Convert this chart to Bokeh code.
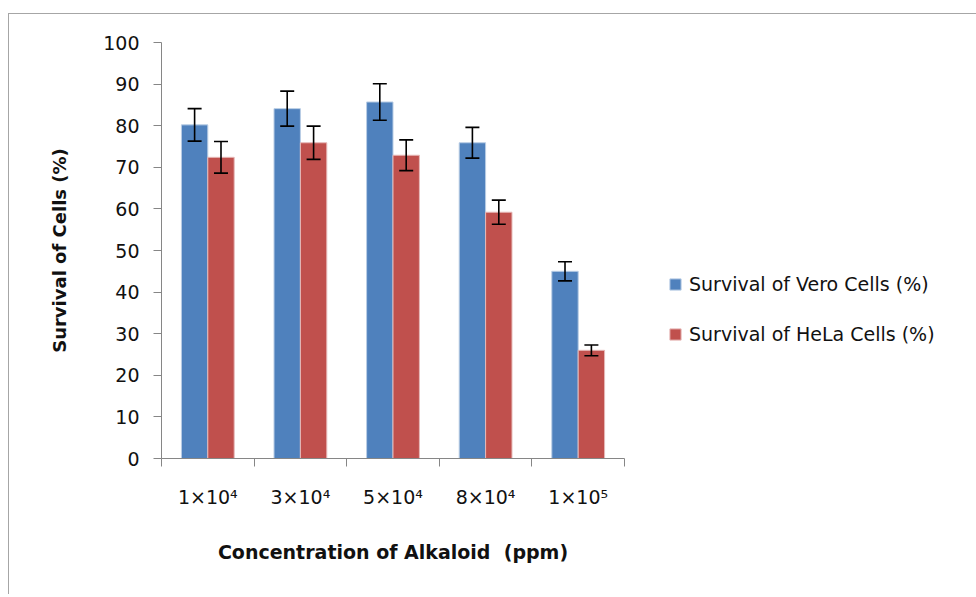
from bokeh.plotting import figure
from bokeh.models import Range1d, FixedTicker, ColumnDataSource, Whisker, TeeHead, Legend, LegendItem
from bokeh.embed import file_html
from bokeh.resources import INLINE

categories = ["1×10⁴", "3×10⁴", "5×10⁴", "8×10⁴", "1×10⁵"]
vero = [80.2, 84.1, 85.7, 75.9, 45.0]
vero_err = [3.9, 4.2, 4.4, 3.7, 2.3]
hela = [72.4, 75.9, 72.9, 59.2, 26.0]
hela_err = [3.8, 4.0, 3.7, 2.9, 1.3]
y_ticks = list(range(0, 101, 10))

FONT = "DejaVu Sans"
n = len(categories)
bw = 0.285
xc = [i + 0.5 for i in range(n)]
x_vero = [x - bw / 2 for x in xc]
x_hela = [x + bw / 2 for x in xc]

src_v = ColumnDataSource(dict(x=x_vero, top=vero,
                              upper=[v + e for v, e in zip(vero, vero_err)],
                              lower=[v - e for v, e in zip(vero, vero_err)]))
src_h = ColumnDataSource(dict(x=x_hela, top=hela,
                              upper=[v + e for v, e in zip(hela, hela_err)],
                              lower=[v - e for v, e in zip(hela, hela_err)]))

p = figure(frame_width=463, frame_height=416, x_range=Range1d(0, n), y_range=Range1d(0, 100),
           output_backend="svg", toolbar_location=None,
           min_border_left=152, min_border_right=340, min_border_top=28, min_border_bottom=136)
p.margin = (13, 0, 0, 8)
p.styles = {"border-left": "1px solid #a6a6a6", "border-top": "1px solid #a6a6a6"}
p.outline_line_color = None
p.xgrid.visible = False
p.ygrid.visible = False

r1 = p.vbar(x="x", top="top", width=bw, bottom=0, source=src_v,
            fill_color="#4F81BD", line_color="#b9cde5", line_width=1)
r2 = p.vbar(x="x", top="top", width=bw, bottom=0, source=src_h,
            fill_color="#C0504D", line_color="#e6b9b8", line_width=1)

for s in (src_v, src_h):
    w = Whisker(base="x", upper="upper", lower="lower", source=s, level="annotation",
                line_color="black", line_width=1.6,
                upper_head=TeeHead(size=14, line_width=1.6, line_color="black"),
                lower_head=TeeHead(size=14, line_width=1.6, line_color="black"))
    p.add_layout(w)

axis_col = "#868686"
# x axis
xa = p.xaxis[0]
xa.ticker = FixedTicker(ticks=xc, minor_ticks=list(range(n + 1)))
xa.major_label_overrides = {x: c for x, c in zip(xc, categories)}
xa.major_tick_line_color = None
xa.minor_tick_line_color = axis_col
xa.minor_tick_out = 8
xa.minor_tick_in = 0
xa.axis_line_color = axis_col
xa.major_label_text_font = FONT
xa.major_label_text_font_size = "19px"
xa.major_label_text_color = "#111111"
xa.major_label_standoff = 19
xa.axis_label = "Concentration of Alkaloid\u00a0 (ppm)"
xa.axis_label_text_font = FONT
xa.axis_label_text_font_size = "19px"
xa.axis_label_text_font_style = "bold"
xa.axis_label_text_color = "#111111"
xa.axis_label_standoff = 30

# y axis
ya = p.yaxis[0]
ya.ticker = FixedTicker(ticks=y_ticks)
ya.major_tick_out = 8
ya.major_tick_in = 0
ya.major_tick_line_color = axis_col
ya.minor_tick_line_color = None
ya.axis_line_color = axis_col
ya.major_label_text_font = FONT
ya.major_label_text_font_size = "19px"
ya.major_label_text_color = "#111111"
ya.major_label_standoff = 14
ya.axis_label = "Survival of Cells (%)"
ya.axis_label_text_font = FONT
ya.axis_label_text_font_size = "18px"
ya.axis_label_text_font_style = "bold"
ya.axis_label_text_color = "#111111"
ya.axis_label_standoff = 30

legend = Legend(items=[LegendItem(label="Survival of Vero Cells (%)", renderers=[r1]),
                       LegendItem(label="Survival of HeLa Cells (%)", renderers=[r2])],
                location=(44, 113), orientation="vertical",
                glyph_width=14, glyph_height=14, label_height=14,
                spacing=28, label_standoff=7, padding=0, margin=0,
                border_line_color=None, background_fill_alpha=0,
                label_text_font=FONT, label_text_font_size="19px",
                label_text_color="#111111")
p.add_layout(legend, "right")

open("out.html", "w").write(file_html(p, INLINE))
